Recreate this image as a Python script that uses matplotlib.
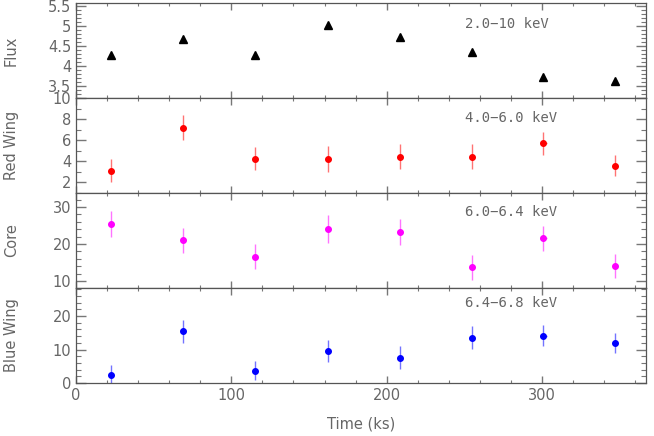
import numpy as np
import matplotlib
matplotlib.use("Agg")
import matplotlib.pyplot as plt
from matplotlib.ticker import MultipleLocator, FuncFormatter

# time of each spectrum (ks)
time = [22.5, 69, 115.5, 162, 208.5, 255, 301, 347]
time_err = [2, 2, 2, 2, 2, 2, 2, 2]

flux = [4.27, 4.67, 4.27, 5.02, 4.74, 4.35, 3.73, 3.62]
flux_err = [0.04, 0.04, 0.04, 0.04, 0.04, 0.04, 0.04, 0.04]

red_wing = [3.1, 7.2, 4.25, 4.2, 4.45, 4.45, 5.7, 3.6]
red_wing_err = [1.1, 1.15, 1.1, 1.25, 1.2, 1.2, 1.1, 1.0]

core = [25.5, 21.0, 16.6, 24.1, 23.3, 13.7, 21.5, 14.0]
core_err = [3.5, 3.4, 3.3, 3.7, 3.5, 3.4, 3.4, 3.2]

blue_wing = [2.4, 15.5, 3.7, 9.6, 7.6, 13.6, 14.2, 11.9]
blue_wing_err = [2.9, 3.4, 2.9, 3.4, 3.4, 3.4, 3.2, 2.9]

panel_names = ["Flux", "Red Wing", "Core", "Blue Wing"]
band_labels = ["2.0\u221210 keV", "4.0\u22126.0 keV", "6.0\u22126.4 keV", "6.4\u22126.8 keV"]

gray = "#555555"
txt = "#666666"

fig = plt.figure(figsize=(6.54, 4.36), dpi=100)
left, right = 76/654, 646/654
top, bot = 1 - 3/436, 1 - 383/436
h = (top - bot) / 4
axes = [fig.add_axes([left, top - (i + 1)*h, right - left, h]) for i in range(4)]

series = [(flux, flux_err, "black", "^"),
          (red_wing, red_wing_err, "red", "o"),
          (core, core_err, "magenta", "o"),
          (blue_wing, blue_wing_err, "blue", "o")]
ylims = [(3.2, 5.58), (1.0, 10.0), (8.1, 33.8), (0.0, 28.4)]
ymaj = [0.5, 2, 10, 10]
ymin = [0.1, 1, 2, 2]
label_y = [0.78, 0.79, 0.80, 0.84]

for i, ax in enumerate(axes):
    y, yerr, c, m = series[i]
    if m == "^":
        ax.errorbar(time, y, yerr=yerr, fmt="none", ecolor=c, elinewidth=0.8)
        ax.plot(time, y, ls="none", marker="^", ms=5.5, color=c)
    else:
        ax.errorbar(time, y, yerr=yerr, xerr=time_err, fmt="none", ecolor=c,
                    elinewidth=1.0, alpha=0.55)
        ax.plot(time, y, ls="none", marker="o", ms=4, color=c, mec=c)
    ax.set_xlim(0, 367)
    ax.set_ylim(*ylims[i])
    ax.xaxis.set_major_locator(MultipleLocator(100))
    ax.xaxis.set_minor_locator(MultipleLocator(20))
    ax.yaxis.set_major_locator(MultipleLocator(ymaj[i]))
    ax.yaxis.set_minor_locator(MultipleLocator(ymin[i]))
    ax.yaxis.set_major_formatter(FuncFormatter(lambda v, p: "%g" % v))
    ax.tick_params(which="both", direction="in", top=True, right=True,
                   colors="#777777", labelcolor=txt, labelsize=10.5)
    ax.tick_params(axis="x", which="major", length=5, width=1)
    ax.tick_params(axis="x", which="minor", length=2.5, width=0.8)
    ax.tick_params(axis="y", which="major", length=7, width=1)
    ax.tick_params(axis="y", which="minor", length=3.5, width=0.8)
    for s in ax.spines.values():
        s.set_color(gray)
        s.set_linewidth(0.9)
    if i < 3:
        ax.tick_params(axis="x", labelbottom=False)
    ax.set_ylabel(panel_names[i], color=txt, fontsize=10.5)
    ax.yaxis.set_label_coords(-0.10, 0.5)
    ax.text(0.682, label_y[i], band_labels[i], transform=ax.transAxes,
            ha="left", va="center", color=txt, fontsize=10,
            family="DejaVu Sans Mono")

axes[3].set_xlabel("Time (ks)", color=txt, fontsize=10.5, labelpad=10)

fig.savefig("out.png", dpi=100)
